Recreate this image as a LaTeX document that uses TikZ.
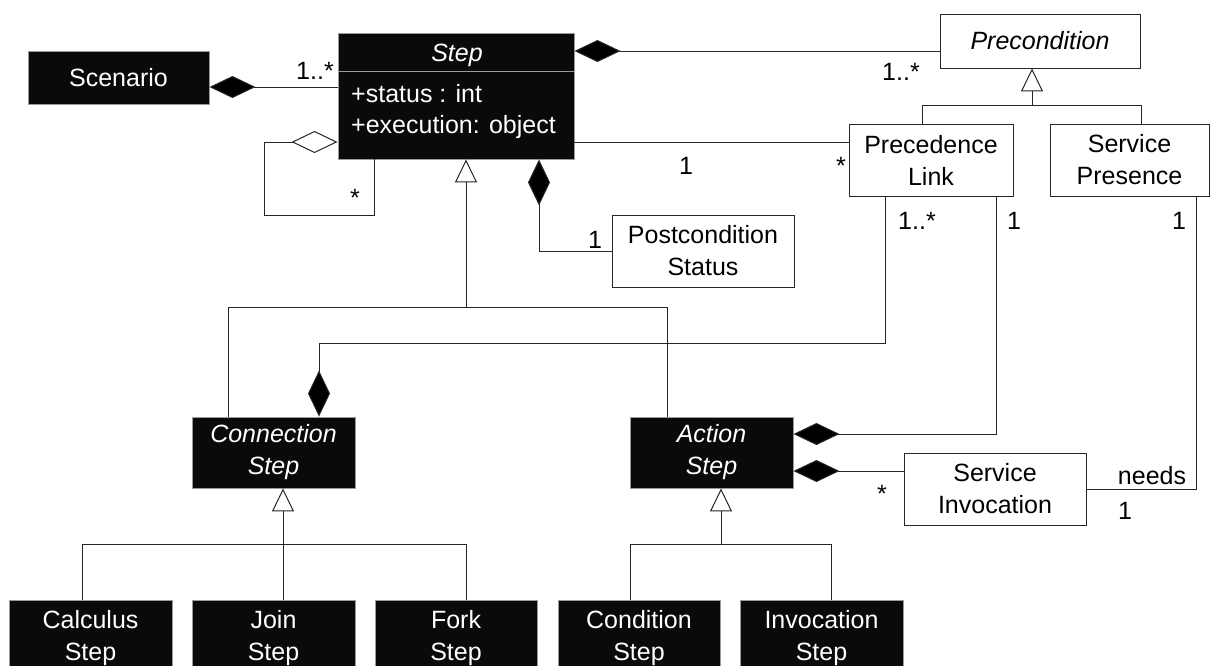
\documentclass[tikz,border=0pt]{standalone}
\usepackage{fontspec}
\setmainfont{Liberation Sans}
\usetikzlibrary{arrows.meta}
\definecolor{boxblack}{HTML}{0A0A0A}
\definecolor{ink}{HTML}{262626}
\definecolor{rim}{HTML}{9A9A9A}
\begin{document}
\begin{tikzpicture}[x=1pt,y=-1pt,
  txt/.style={font=\fontsize{25}{32}\selectfont},
  itxt/.style={font=\fontsize{25}{32}\selectfont\itshape},
  blkbox/.style={draw=rim, fill=boxblack, text=white, line width=0.9pt,
                 align=center, inner sep=0pt},
  whtbox/.style={draw=ink, fill=white, text=black, line width=0.9pt,
                 align=center, inner sep=0pt},
  lbl/.style={txt, inner sep=0pt},
  assoc/.style={draw=ink, line width=1pt},
  comp/.style={assoc, -{Diamond[length=46pt,width=22pt,fill=black]}},
  aggr/.style={assoc, -{Diamond[length=46pt,width=22pt,fill=white]}},
  gen/.style={assoc, -{Triangle[length=23pt,width=22pt,fill=white]}},
]
\useasboundingbox (0,0) rectangle (1210,665);
\clip (0,0) rectangle (1210,665);

% ---- classes ----
\node[blkbox, txt, minimum width=181pt, minimum height=53pt] (scen) at (118.5,77.5) {Scenario};
\node[blkbox, minimum width=236pt, minimum height=126pt] (step) at (456,96) {};
\draw[rim, line width=0.9pt] (step.west |- 0,71) -- (step.east |- 0,71);
\node[lbl, itxt, text=white] (steptitle) at (457,55) {Step};
\node[lbl, text=white, anchor=west] (attrA) at (351,94) {+status : int};
\node[lbl, text=white, anchor=west] (attrB) at (351,127) {+execution: object};

\node[whtbox, itxt, minimum width=200pt, minimum height=54pt] (precond) at (1040,41) {Precondition};
\node[whtbox, txt, minimum width=164pt, minimum height=72pt] (plink) at (931,160) {Precedence\\Link};
\node[whtbox, txt, minimum width=159pt, minimum height=72pt] (spres) at (1129.5,160) {Service\\Presence};
\node[whtbox, txt, minimum width=182pt, minimum height=72pt] (post) at (703,251) {Postcondition\\Status};

\node[blkbox, itxt, minimum width=163pt, minimum height=71pt] (cstep) at (273.5,452.5) {Connection\\Step};
\node[blkbox, itxt, minimum width=163pt, minimum height=71pt] (astep) at (711.5,452.5) {Action\\Step};
\node[whtbox, txt, minimum width=182pt, minimum height=72pt] (sinv) at (995,489) {Service\\Invocation};

\node[blkbox, txt, minimum width=163pt, minimum height=76pt] (calc) at (90.5,638) {Calculus\\Step};
\node[blkbox, txt, minimum width=163pt, minimum height=76pt] (join) at (273.5,638) {Join\\Step};
\node[blkbox, txt, minimum width=162pt, minimum height=76pt] (fork) at (456,638) {Fork\\Step};
\node[blkbox, txt, minimum width=162pt, minimum height=76pt] (cond) at (639,638) {Condition\\Step};
\node[blkbox, txt, minimum width=163pt, minimum height=76pt] (invoc) at (821.5,638) {Invocation\\Step};

% ---- Scenario owns Steps ----
\draw[comp] (step.west |- 0,87) -- (scen.east |- 0,87);
\node[lbl] (mScen) at (315,71) {1..*};

% ---- Step aggregates Steps ----
\draw[aggr] (step.south -| 374,0) -- (374,215) -- (264,215) -- (264,142) -- (step.west |- 0,142);
\node[lbl] (mSelf) at (355,198) {*};

% ---- Step owns Preconditions ----
\draw[comp] (precond.west |- 0,51) -- (step.east |- 0,51);
\node[lbl] (mPre) at (901,72) {1..*};

% ---- Step -- Precedence Link ----
\draw[assoc] (step.east |- 0,142) -- (plink.west |- 0,142);
\node[lbl] (mLinkA) at (686,166) {1};
\node[lbl] (mLinkB) at (841,166) {*};

% ---- Step owns Postcondition Status ----
\draw[comp] (post.west) -- (539,251) -- (step.south -| 539,0);
\node[lbl] (mPost) at (595,240) {1};

% ---- Step specialisations ----
\draw[assoc] (cstep.north -| 228,0) -- (228,307) -- (667,307) -- (astep.north -| 667,0);
\draw[gen] (466,307) -- (step.south -| 466,0);

% ---- Precondition specialisations ----
\draw[assoc] (plink.north -| 922,0) -- (922,105) -- (1141,105) -- (spres.north -| 1141,0);
\draw[gen] (1032,105) -- (precond.south -| 1032,0);

% ---- Precedence Link owned by Connection Step and Action Step ----
\draw[comp] (plink.south -| 885,0) -- (885,343) -- (319,343) -- (cstep.north -| 319,0);
\node[lbl] (mLinkC) at (917,221) {1..*};
\draw[comp] (plink.south -| 996,0) -- (996,434) -- (astep.east |- 0,434);
\node[lbl] (mLinkD) at (1014,221) {1};

% ---- Action Step owns Service Invocations ----
\draw[comp] (sinv.west |- 0,471) -- (astep.east |- 0,471);
\node[lbl] (mInv) at (882,494) {*};

% ---- Service Invocation needs Service Presence ----
\draw[assoc] (sinv.east |- 0,489) -- (1196,489) -- (spres.south -| 1196,0);
\node[lbl] (mNeeds) at (1152,476) {needs};
\node[lbl] (mNeedsA) at (1125,511) {1};
\node[lbl] (mNeedsB) at (1179,221) {1};

% ---- Connection Step specialisations ----
\draw[assoc] (calc.north -| 82,0) -- (82,544) -- (466,544) -- (fork.north -| 466,0);
\draw[assoc] (join.north -| 283,0) -- (283,544);
\draw[gen] (283,544) -- (cstep.south -| 283,0);

% ---- Action Step specialisations ----
\draw[assoc] (cond.north -| 630,0) -- (630,544) -- (831,544) -- (invoc.north -| 831,0);
\draw[gen] (721,544) -- (astep.south -| 721,0);
\end{tikzpicture}
\end{document}
